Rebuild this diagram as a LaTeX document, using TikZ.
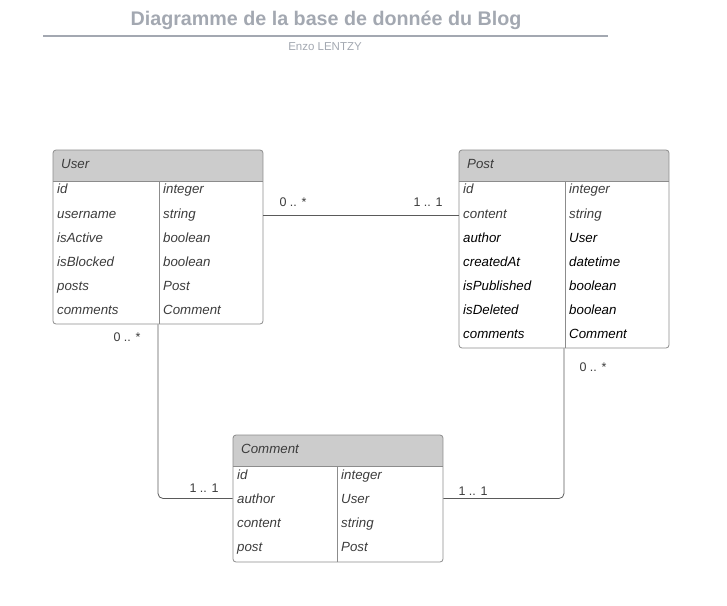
\documentclass[tikz,border=0pt]{standalone}
\usepackage{fontspec}
\setmainfont{Liberation Sans}
\usetikzlibrary{calc}

\definecolor{titlegray}{HTML}{A3A8B1}
\definecolor{boxgray}{HTML}{8C8C8C}
\definecolor{headgray}{HTML}{CCCCCC}
\definecolor{linegray}{HTML}{5A5A5A}
\definecolor{txtgray}{HTML}{3C3C3C}

\begin{document}
\begin{tikzpicture}[x=1pt, y=-1pt,
	tablebox/.style={draw=boxgray, line width=0.8pt, rounded corners=3pt, inner sep=0pt, minimum width=210pt,
		path picture={
			\fill[headgray, sharp corners] (path picture bounding box.north west) rectangle ([yshift=-31pt]path picture bounding box.north east);
			\draw[boxgray, line width=0.8pt, sharp corners] ([yshift=-31pt]path picture bounding box.north west) -- ([yshift=-31pt]path picture bounding box.north east);
			\draw[boxgray, line width=0.8pt, sharp corners] ([xshift=#1, yshift=-31pt]path picture bounding box.north west) -- ([xshift=#1]path picture bounding box.south west);
		}},
	field/.style={anchor=west, inner sep=0pt, yshift=-1.5pt, text height=9.6pt, text depth=2.8pt, font=\fontsize{13.3}{15}\selectfont\itshape, text=txtgray},
	fieldb/.style={field, text=black},
	card/.style={inner sep=0pt, yshift=-1pt, text height=9.2pt, text depth=2.6pt, font=\fontsize{12.5}{15}\selectfont, text=txtgray},
	link/.style={draw=linegray, line width=0.8pt, rounded corners=5pt}]

		\useasboundingbox (0,0) rectangle (727,605);

		% title
		\node[font=\fontsize{19.7}{22}\selectfont\bfseries, text=titlegray] (title) at (326,20) {Diagramme de la base de donnée du Blog};
		\node[font=\fontsize{11.5}{13}\selectfont, text=titlegray] (author) at (325,47) {Enzo LENTZY};
		\draw[titlegray, line width=1.5pt] (43,36) -- (608,36);

		% tables
		\node[tablebox=106pt, minimum height=174pt] (user) at (158,237) {};
		\node[tablebox=106pt, minimum height=198pt] (post) at (564,249) {};
		\node[tablebox=104pt, minimum height=127pt] (comment) at (338,498.5) {};

		% user
		\node[field] (userh) at (61,164) {User};
		\node[field] (u1) at (57,189) {id};
		\node[field] (u2) at (57,214) {username};
		\node[field] (u3) at (57,238) {isActive};
		\node[field] (u4) at (57,262) {isBlocked};
		\node[field] (u5) at (57,286) {posts};
		\node[field] (u6) at (57,310) {comments};
		\node[field] (ut1) at (163,189) {integer};
		\node[field] (ut2) at (163,214) {string};
		\node[field] (ut3) at (163,238) {boolean};
		\node[field] (ut4) at (163,262) {boolean};
		\node[field] (ut5) at (163,286) {Post};
		\node[field] (ut6) at (163,310) {Comment};

		% post
		\node[field] (posth) at (467,164) {Post};
		\node[field] (p1) at (463,189) {id};
		\node[field] (p2) at (463,214) {content};
		\node[fieldb] (p3) at (463,238) {author};
		\node[fieldb] (p4) at (463,262) {createdAt};
		\node[fieldb] (p5) at (463,286) {isPublished};
		\node[fieldb] (p6) at (463,310) {isDeleted};
		\node[fieldb] (p7) at (463,334) {comments};
		\node[field] (pt1) at (569,189) {integer};
		\node[field] (pt2) at (569,214) {string};
		\node[fieldb] (pt3) at (569,238) {User};
		\node[fieldb] (pt4) at (569,262) {datetime};
		\node[fieldb] (pt5) at (569,286) {boolean};
		\node[fieldb] (pt6) at (569,310) {boolean};
		\node[fieldb] (pt7) at (569,334) {Comment};

		% comment
		\node[field] (commenth) at (241,449) {Comment};
		\node[field] (c1) at (237,475) {id};
		\node[field] (c2) at (237,499) {author};
		\node[field] (c3) at (237,523) {content};
		\node[field] (c4) at (237,547) {post};
		\node[field] (ct1) at (341,475) {integer};
		\node[field] (ct2) at (341,499) {User};
		\node[field] (ct3) at (341,523) {string};
		\node[field] (ct4) at (341,547) {Post};

		% links
		\draw[link] (user.east |- u2) -- (post.west |- u2);
		\draw[link] (user.south) |- (comment.west);
		\draw[link] (post.south) |- (comment.east);

		% cardinalities
		\node[card] (up) at (293,202) {0 .. *};
		\node[card] (pu) at (428,202) {1 .. 1};
		\node[card] (uc) at (127,337) {0 .. *};
		\node[card] (cu) at (204,488) {1 .. 1};
		\node[card] (pc) at (593,367) {0 .. *};
		\node[card] (cp) at (473,491) {1 .. 1};

	\end{tikzpicture}
\end{document}
